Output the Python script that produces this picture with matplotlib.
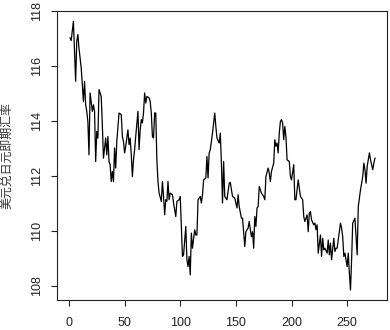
import matplotlib
matplotlib.use('Agg')
import matplotlib.pyplot as plt

# USD/JPY spot rate (index, value)
idx = [1, 2, 4, 6, 7, 8, 9, 11, 12, 13, 14, 15, 16, 17, 18, 19, 21, 22, 23, 24,
       25, 26, 27, 29, 30, 31, 33, 34, 35, 36, 37, 38, 39, 40, 41, 42, 43, 45, 47, 48,
       49, 50, 51, 53, 54, 55, 56, 57, 58, 59, 60, 62, 63, 64, 65, 66, 67, 68, 69, 70,
       72, 73, 74, 75, 76, 77, 78, 79, 80, 81, 83, 84, 85, 86, 87, 88, 89, 90, 91, 93,
       94, 95, 96, 97, 99, 100, 101, 102, 103, 105, 106, 107, 108, 109, 110, 111, 113, 114, 115, 116,
       118, 119, 120, 121, 123, 124, 125, 126, 127, 129, 130, 131, 132, 133, 135, 136, 137, 138, 139, 140,
       142, 144, 145, 146, 147, 149, 150, 151, 152, 153, 155, 156, 157, 158, 159, 161, 162, 163, 164, 165,
       166, 167, 168, 169, 170, 171, 173, 174, 175, 176, 177, 179, 180, 181, 182, 184, 185, 186, 187, 188,
       189, 190, 191, 192, 193, 194, 195, 196, 198, 199, 200, 202, 203, 204, 206, 208, 209, 210, 211, 212,
       214, 215, 216, 217, 218, 220, 221, 222, 223, 224, 226, 227, 228, 229, 230, 232, 233, 234, 235, 236,
       238, 239, 240, 241, 242, 244, 245, 246, 247, 248, 250, 251, 252, 253, 254, 255, 257, 259, 260, 262,
       264, 265, 266, 267, 268, 270, 271, 273, 274, 275]
rate = [117.01, 116.91, 117.61, 115.43, 116.88, 117.13, 116.64, 115.92, 115.31, 114.70,
        115.43, 114.58, 114.34, 113.97, 112.76, 115.01, 114.34, 114.58, 114.34, 112.52,
        113.61, 113.37, 115.13, 114.88, 113.85, 112.64, 113.37, 112.76, 113.43, 112.52,
        112.40, 111.79, 112.16, 111.79, 113.01, 112.28, 113.25, 114.28, 114.22, 113.43,
        113.25, 112.83, 113.07, 113.67, 113.13, 113.37, 112.76, 111.97, 112.58, 112.95,
        113.43, 114.34, 112.95, 113.67, 114.04, 113.92, 114.28, 115.01, 114.64, 114.88,
        114.83, 114.70, 114.28, 113.43, 113.37, 114.28, 114.28, 112.58, 111.79, 111.37,
        111.07, 111.79, 111.25, 110.58, 111.13, 111.07, 111.79, 111.13, 111.37, 111.31,
        111.01, 110.76, 110.52, 111.07, 111.13, 111.25, 110.16, 109.07, 109.13, 110.16,
        108.95, 108.70, 109.07, 108.40, 109.92, 109.37, 110.04, 109.85, 109.85, 111.13,
        111.25, 111.01, 111.31, 111.85, 111.92, 112.70, 111.92, 112.83, 112.95, 113.55,
        113.92, 114.28, 113.79, 113.37, 113.19, 113.55, 112.46, 111.01, 112.52, 111.25,
        111.13, 111.73, 111.76, 111.49, 111.25, 111.19, 111.01, 110.83, 111.31, 110.88,
        110.46, 110.46, 109.92, 109.43, 109.97, 110.10, 110.34, 110.04, 109.79, 109.97,
        109.37, 110.52, 110.16, 110.83, 110.88, 111.61, 111.37, 111.31, 111.25, 111.13,
        111.97, 112.28, 112.10, 111.79, 112.16, 112.46, 113.31, 113.07, 113.19, 112.83,
        113.55, 113.97, 114.04, 113.92, 113.31, 113.79, 113.43, 112.58, 112.52, 111.97,
        111.85, 112.40, 111.13, 111.13, 111.85, 111.25, 111.19, 111.13, 110.52, 110.34,
        110.58, 109.97, 110.64, 110.70, 110.40, 110.22, 110.28, 110.04, 110.22, 109.19,
        109.85, 109.07, 109.73, 109.31, 109.37, 109.19, 109.67, 109.13, 109.55, 108.95,
        109.73, 109.25, 109.37, 109.37, 109.67, 110.28, 110.10, 109.79, 109.07, 109.19,
        108.70, 109.19, 108.46, 107.85, 108.95, 110.28, 110.46, 109.13, 110.88, 111.49,
        111.97, 112.46, 112.22, 111.73, 112.34, 112.83, 112.58, 112.22, 112.46, 112.64]

XTICKS = [0, 50, 100, 150, 200, 250]
YTICKS = [108, 110, 112, 114, 116, 118]
YLABEL = '美元兑日元即期汇率'

plt.rcParams['font.family'] = ['Liberation Sans', 'DejaVu Sans']

fig = plt.figure(figsize=(3.9, 3.3), dpi=100)
ax = fig.add_axes([0.146, 0.091, 0.846, 0.877])

ax.plot(idx, rate, color='black', linewidth=0.9)

ax.set_xlim(-10.8, 285.7)
ax.set_ylim(107.49, 118.0)
ax.set_xticks(XTICKS)
ax.set_yticks(YTICKS)

for sp in ax.spines.values():
    sp.set_color('#222222')
    sp.set_linewidth(0.8)

ax.tick_params(axis='both', direction='out', length=4, width=0.8,
               color='#222222', labelsize=9, labelcolor='#222222')
ax.tick_params(axis='x', pad=8)
ax.tick_params(axis='y', pad=6)
for lab in ax.get_yticklabels():
    lab.set_rotation(90)
    lab.set_va('center')

ax.set_ylabel(YLABEL, family=['Noto Sans CJK SC', 'DejaVu Sans'],
              fontsize=8.6, color='#333333')
ax.yaxis.set_label_coords(-0.132, 0.5)

fig.savefig('out.png', dpi=100)
